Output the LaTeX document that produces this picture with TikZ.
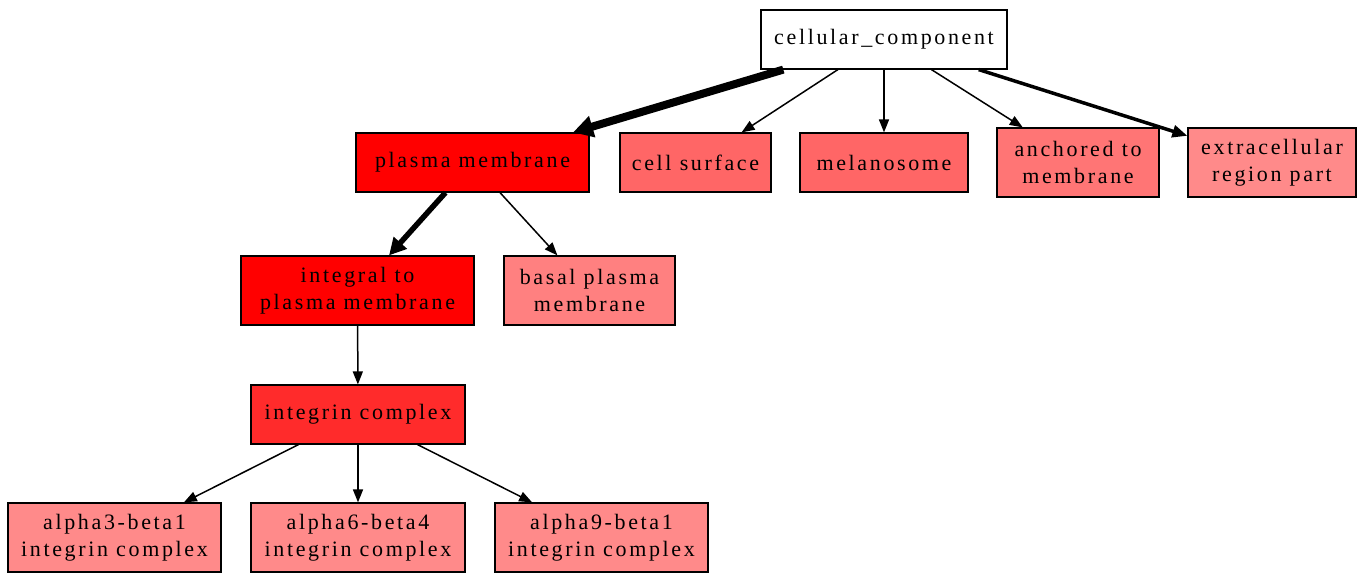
\documentclass[tikz,border=0pt]{standalone}
\usepackage{fontspec}
\setmainfont{Liberation Serif}[LetterSpace=12]
\usetikzlibrary{positioning}
\usetikzlibrary{arrows.meta}
\definecolor{hot}{HTML}{FF0000}
\definecolor{warm}{HTML}{FF2B2B}
\definecolor{mid}{HTML}{FF6666}
\definecolor{midlight}{HTML}{FF7575}
\definecolor{light}{HTML}{FF8080}
\definecolor{pale}{HTML}{FF8A8A}

\begin{document}
\begin{tikzpicture}[x=1pt, y=-1pt,
  box/.style={draw, rectangle, line width=1.2pt, minimum height=59pt, inner sep=0pt, align=center, font=\fontsize{22}{27}\selectfont},
  tall/.style={box, minimum height=69pt},
  link/.style={-{Triangle[length=13pt,width=10pt]}, line width=1.5pt},
  midlink/.style={-{Triangle[length=15pt,width=12pt]}, line width=3.5pt},
  heavylink/.style={-{Triangle[length=17pt,width=17pt]}, line width=5.5pt},
  heaviestlink/.style={-{Triangle[length=20pt,width=21pt]}, line width=8pt}]
  \useasboundingbox (0,0) rectangle (1365,573);
  \node (cc) [box, fill=white, minimum width=246pt] at (884,39.5) {cellular\_component};
  \node (pm) [box, fill=hot, minimum width=233pt] at (472.5,162.5) {plasma membrane};
  \node (cs) [box, fill=mid, minimum width=151pt] at (695.5,162.5) {cell surface};
  \node (mel) [box, fill=mid, minimum width=168pt] at (884,162.5) {melanosome};
  \node (anc) [tall, fill=midlight, minimum width=162pt] at (1078,162.5) {anchored to\\membrane};
  \node (ext) [tall, fill=pale, minimum width=168pt] at (1272,162.5) {extracellular\\region part};
  \node (ipm) [tall, fill=hot, minimum width=233pt] at (357.5,290.5) {integral to\\plasma membrane};
  \node (bpm) [tall, fill=light, minimum width=171pt] at (589.5,290.5) {basal plasma\\membrane};
  \node (ic) [box, fill=warm, minimum width=214pt] at (358,414.5) {integrin complex};
  \node (a3) [tall, fill=pale, minimum width=213pt] at (114.5,537.5) {alpha3-beta1\\integrin complex};
  \node (a6) [tall, fill=pale, minimum width=214pt] at (358,537.5) {alpha6-beta4\\integrin complex};
  \node (a9) [tall, fill=pale, minimum width=213pt] at (601.5,537.5) {alpha9-beta1\\integrin complex};
  \draw[heaviestlink] (cc) -- (pm);
  \draw[link] (cc) -- (cs);
  \draw[link] (cc) -- (mel);
  \draw[link] (cc) -- (anc);
  \draw[midlink] (cc) -- (ext);
  \draw[heavylink] (pm) -- (ipm);
  \draw[link] (pm) -- (bpm);
  \draw[link] (ipm) -- (ic);
  \draw[link] (ic) -- (a3);
  \draw[link] (ic) -- (a6);
  \draw[link] (ic) -- (a9);
\end{tikzpicture}
\end{document}
